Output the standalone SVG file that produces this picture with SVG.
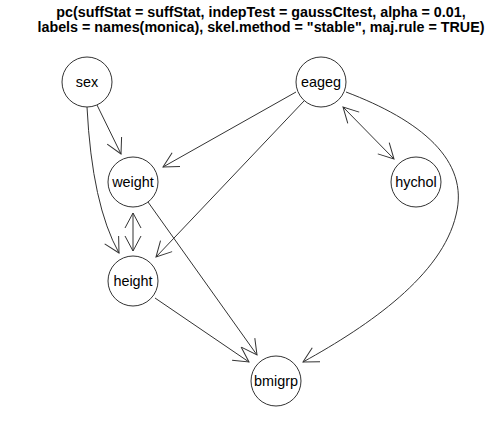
<svg xmlns="http://www.w3.org/2000/svg" width="504" height="432" viewBox="0 0 504 432">
<style>
.t{font-family:"Liberation Sans",Arial,sans-serif;font-weight:bold;font-size:14.3px;text-anchor:middle}
.n circle{fill:#fff;stroke:#333;stroke-width:1}
.n text{font-family:"Liberation Sans",Arial,sans-serif;font-size:14.4px;text-anchor:middle;dominant-baseline:central}
#edges path{fill:none;stroke:#333;stroke-width:1}
</style>
<defs>
<marker id="a" markerUnits="userSpaceOnUse" markerWidth="20" markerHeight="20" refX="15" refY="8" orient="auto" overflow="visible">
<path d="M0,0 L15,8 L0,16" fill="none" stroke="#333" stroke-width="1"/>
</marker>
<marker id="s" markerUnits="userSpaceOnUse" markerWidth="20" markerHeight="20" refX="15" refY="8" orient="auto-start-reverse" overflow="visible">
<path d="M0,0 L15,8 L0,16" fill="none" stroke="#333" stroke-width="1"/>
</marker>
</defs>
<rect width="504" height="432" fill="#fff"/>
<text class="t" x="261" y="17">pc(suffStat = suffStat, indepTest = gaussCItest, alpha = 0.01,</text>
<text class="t" x="261" y="32">labels = names(monica), skel.method = "stable", maj.rule = TRUE)</text>
<g id="edges">
<path d="M97,105 L121,154" marker-end="url(#a)"/>
<path d="M87,107 Q92,205 119,253" marker-end="url(#a)"/>
<path d="M133,213 L133,251" marker-start="url(#s)" marker-end="url(#a)"/>
<path d="M296,92 L163,167" marker-end="url(#a)"/>
<path d="M304,101 L156,257" marker-end="url(#a)"/>
<path d="M343,107 L394,159" marker-start="url(#s)" marker-end="url(#a)"/>
<path d="M346,92 C420,120 470,160 456,215 C442,275 370,325 303,362" marker-end="url(#a)"/>
<path d="M148,202 L257,355" marker-end="url(#a)"/>
<path d="M155,298 L249,362" marker-end="url(#a)"/>
</g>
<g id="sex" class="n"><circle cx="87" cy="82" r="25"/><text x="87" y="82">sex</text></g>
<g id="eageg" class="n"><circle cx="321" cy="82" r="25"/><text x="321" y="82">eageg</text></g>
<g id="weight" class="n"><circle cx="133" cy="182" r="25"/><text x="133" y="182">weight</text></g>
<g id="hychol" class="n"><circle cx="416" cy="182" r="25"/><text x="416" y="182">hychol</text></g>
<g id="height" class="n"><circle cx="133" cy="281" r="25"/><text x="133" y="281">height</text></g>
<g id="bmigrp" class="n"><circle cx="276" cy="381" r="25"/><text x="276" y="381">bmigrp</text></g>
</svg>
